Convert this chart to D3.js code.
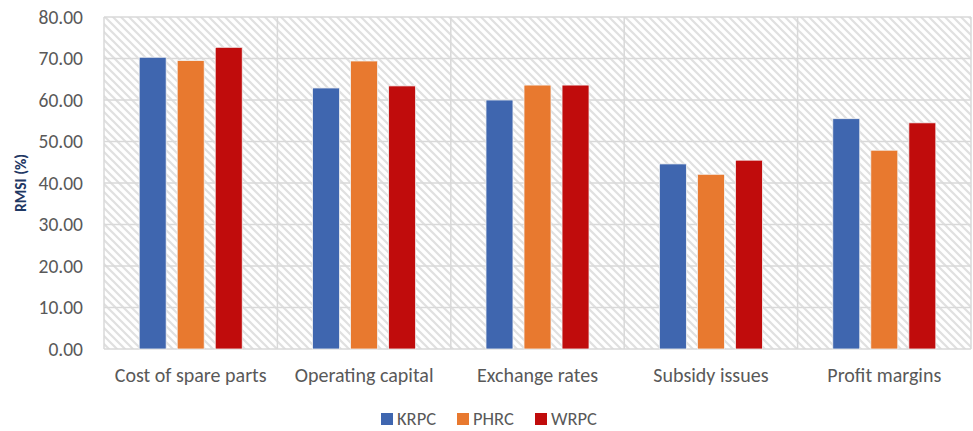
<!DOCTYPE html>
<html><head><meta charset="utf-8">
<script src="https://cdn.jsdelivr.net/npm/d3@7"></script>
<style>body{margin:0;background:#fff}svg{display:block}</style>
</head><body><svg id="c" width="973" height="431"></svg>
<script>
const categories = ["Cost of spare parts","Operating capital","Exchange rates","Subsidy issues","Profit margins"];
const seriesNames = ["KRPC","PHRC","WRPC"];
const KRPC = [70.3, 62.9, 60.0, 44.6, 55.5];
const PHRC = [69.5, 69.4, 63.6, 42.1, 47.9];
const WRPC = [72.7, 63.4, 63.6, 45.5, 54.5];
const yTicks = [0,10,20,30,40,50,60,70,80];
const colors = ["#3F66AF","#E8792F","#C00C0C"];
const seriesVals = [KRPC, PHRC, WRPC];
const FONT = "Carlito, Calibri, 'Liberation Sans', sans-serif";

const svg = d3.select("#c");
const m = {l:104, r:971, t:17, b:349};
const x = d3.scaleBand().domain(categories).range([m.l, m.r]).paddingInner(0).paddingOuter(0);
const y = d3.scaleLinear().domain([0,80]).range([m.b, m.t]);
const xs = d3.scaleBand().domain(seriesNames).range([0, x.bandwidth()]).paddingInner(0.29).paddingOuter(0.925);

const defs = svg.append("defs");
const pat = defs.append("pattern").attr("id","hatch").attr("patternUnits","userSpaceOnUse")
  .attr("width",8).attr("height",8);
pat.append("rect").attr("width",8).attr("height",8).attr("fill","#fff");
pat.append("path").attr("d","M-2,-2 L10,10 M-2,6 L2,10 M6,-2 L10,2")
  .attr("stroke","#e0e0e0").attr("stroke-width",2.2);

svg.append("rect").attr("x",m.l).attr("y",m.t).attr("width",m.r-m.l).attr("height",m.b-m.t).attr("fill","url(#hatch)");

// horizontal gridlines
svg.append("g").selectAll("line").data(yTicks).join("line")
  .attr("x1",m.l).attr("x2",m.r).attr("y1",d=>y(d)).attr("y2",d=>y(d))
  .attr("stroke","#d9d9d9").attr("stroke-width",1.5);
// vertical gridlines
const vx = categories.map(c=>x(c)).concat([m.r]);
svg.append("g").selectAll("line").data(vx).join("line")
  .attr("x1",d=>d).attr("x2",d=>d).attr("y1",m.t).attr("y2",m.b)
  .attr("stroke","#d9d9d9").attr("stroke-width",1.5);

// bars
seriesNames.forEach((s,i)=>{
  svg.append("g").selectAll("rect").data(categories).join("rect")
    .attr("x",c=>x(c)+xs(s)).attr("width",xs.bandwidth())
    .attr("y",(c,j)=>y(seriesVals[i][j])).attr("height",(c,j)=>y(0)-y(seriesVals[i][j]))
    .attr("fill",colors[i]).attr("stroke","#f3f3f3").attr("stroke-width",0.8);
});

// y axis labels
const yAxis = d3.axisLeft(y).tickValues(yTicks).tickFormat(d3.format(".2f")).tickSize(0).tickPadding(21);
const ga = svg.append("g").attr("transform",`translate(${m.l},0)`).call(yAxis);
ga.select(".domain").remove();
ga.selectAll("text").attr("fill","#595959").style("font-family",FONT).style("font-size","19.5px");

// x axis labels
const xAxis = d3.axisBottom(x).tickSize(0).tickPadding(19);
const gx = svg.append("g").attr("transform",`translate(0,${m.b})`).call(xAxis);
gx.select(".domain").remove();
gx.selectAll("text").attr("fill","#595959").style("font-family",FONT).style("font-size","20px");

// y title
svg.append("text").attr("transform","translate(26,183) rotate(-90)").attr("text-anchor","middle")
  .attr("fill","#1F3864").style("font-family",FONT).style("font-weight","bold").style("font-size","15.5px")
  .text("RMSI (%)");

// legend
const lg = svg.append("g");
const lx = [381, 457, 535];
seriesNames.forEach((s,i)=>{
  lg.append("rect").attr("x",lx[i]).attr("y",413).attr("width",12).attr("height",12).attr("fill",colors[i]);
  lg.append("text").attr("x",lx[i]+16).attr("y",425).attr("fill","#595959")
    .style("font-family",FONT).style("font-size","18.5px").text(s);
});
</script></body></html>
